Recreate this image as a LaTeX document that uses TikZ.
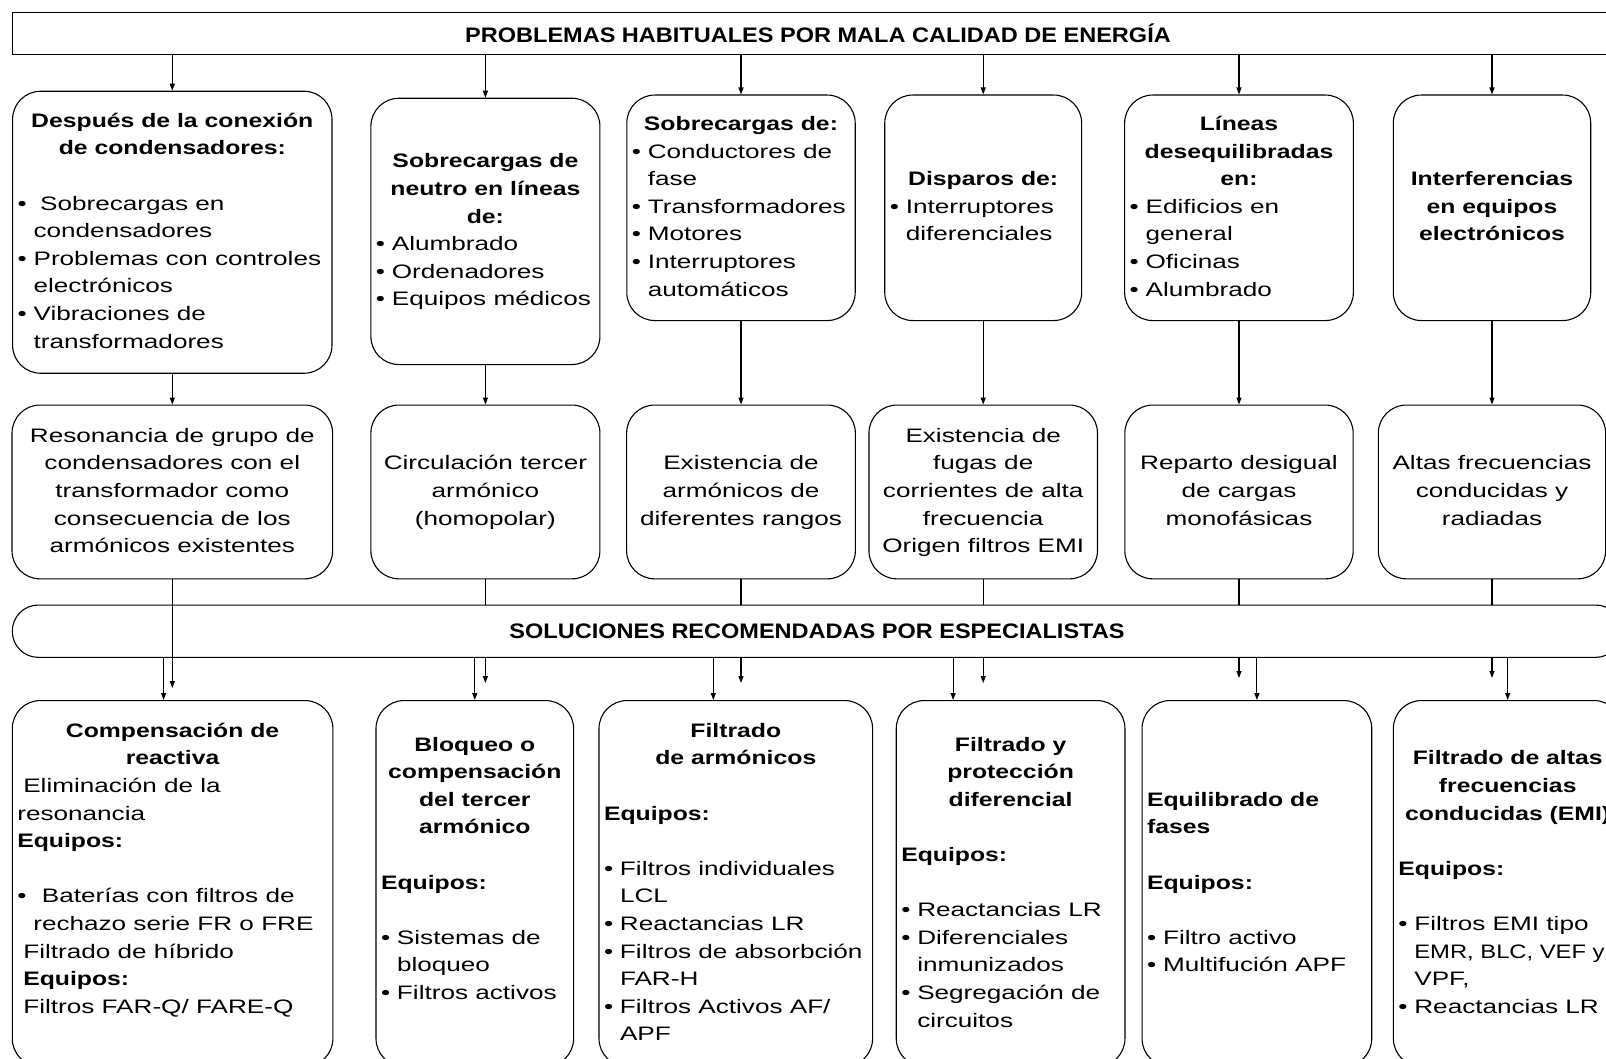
\documentclass[tikz,border=0pt]{standalone}
\usepackage{fontspec}
\usetikzlibrary{arrows.meta}
\newfontfamily\bodyfont{Liberation Sans}[FakeStretch=1.34]
\newfontfamily\headfont{Liberation Sans}[FakeStretch=1.27]
\newfontfamily\capfont{Liberation Sans}[FakeStretch=1.12]
\newdimen\hdw
\newcommand{\hcen}[1]{\strut\makebox[\hdw][c]{\headfont\bfseries #1}}
\newcommand{\hlft}[1]{\strut\makebox[\hdw][l]{\headfont\bfseries #1}}
\newcommand{\hbold}[1]{{\headfont\bfseries #1}}
\newcommand{\bulw}[1]{\strut\makebox[#1][l]{\textbullet}}
\newcommand{\bul}{\bulw{16pt}}
\newcommand{\cnt}{\strut\hspace*{16pt}}
\tikzset{chart/.style={x=1pt,y=-1pt,line width=1.1pt}}
\tikzset{link/.style={-{Triangle[length=7pt,width=5pt]}},
         bar/.style={draw,inner sep=0pt,font=\capfont\bfseries\fontsize{21}{25}\selectfont},
         pbox/.style 2 args={draw,rounded corners=28pt,inner sep=0pt,align=left,
           font=\bodyfont\fontsize{19.5}{27.6}\selectfont,minimum width=#1,minimum height=#2,
           execute at begin node={\global\hdw=\dimexpr#1-10pt\relax}},
         cbox/.style 2 args={pbox={#1}{#2},align=center}}

\begin{document}
\begin{tikzpicture}[chart]
    \useasboundingbox (0,0) rectangle (1606,1059);
    \fill[white] (0,0) rectangle (1606,1059);
    \clip (0,0) rectangle (1606,1059);
    \node[bar,minimum width=1611.4pt,minimum height=42.7pt] (top) at (818,33.6)
      {PROBLEMAS HABITUALES POR MALA CALIDAD DE ENERGÍA};
    % problems
    \node[pbox={319.4pt}{282pt},anchor=north] (p1) at (172.3,90.7)
      {\hcen{Después de la conexión}\\ \hcen{de condensadores:}\\ \strut\\
       \bulw{22.5pt}Sobrecargas en\\ \cnt condensadores\\ \bul Problemas con controles\\
       \cnt electrónicos\\ \bul Vibraciones de\\ \cnt transformadores};
    \node[pbox={229pt}{266.3pt},anchor=north] (p2) at (485.4,97.7)
      {\hcen{Sobrecargas de}\\ \hcen{neutro en líneas}\\ \hcen{de:}\\
       \bul Alumbrado\\ \bul Ordenadores\\ \bul Equipos médicos};
    \node[pbox={228.4pt}{225.5pt},anchor=north] (p3) at (741,94.5)
      {\hcen{Sobrecargas de:}\\ \bul Conductores de\\ \cnt fase\\ \bul Transformadores\\
       \bul Motores\\ \bul Interruptores\\ \cnt automáticos};
    \node[pbox={196.9pt}{225.5pt},anchor=north] (p4) at (983.2,94.5)
      {\hcen{Disparos de:}\\ \bul Interruptores\\ \cnt diferenciales};
    \node[pbox={228.7pt}{225.5pt},anchor=north] (p5) at (1239,94.5)
      {\hcen{Líneas}\\ \hcen{desequilibradas}\\ \hcen{en:}\\ \bul Edificios en\\
       \cnt general\\ \bul Oficinas\\ \bul Alumbrado};
    \node[pbox={197.4pt}{225.5pt},anchor=north] (p6) at (1492,94.5)
      {\hcen{Interferencias}\\ \hcen{en equipos}\\ \hcen{electrónicos}};
    % causes
    \node[cbox={320.6pt}{173.8pt},anchor=north] (c1) at (172.3,404.5)
      {\strut Resonancia de grupo de\\ condensadores con el\\ transformador como\\
       consecuencia de los\\ \strut armónicos existentes};
    \node[cbox={229pt}{173.8pt},anchor=north] (c2) at (485.4,404.5)
      {\strut Circulación tercer\\ armónico\\ \strut(homopolar)};
    \node[cbox={228.7pt}{173.8pt},anchor=north] (c3) at (741,404.5)
      {\strut Existencia de\\ armónicos de\\ \strut diferentes rangos};
    \node[cbox={228.5pt}{173.8pt},anchor=north] (c4) at (983.2,404.5)
      {\strut Existencia de\\ fugas de\\ corrientes de alta\\ frecuencia\\ \strut Origen filtros EMI};
    \node[cbox={228.3pt}{173.8pt},anchor=north] (c5) at (1239,404.5)
      {\strut Reparto desigual\\ de cargas\\ \strut monofásicas};
    \node[cbox={227.3pt}{173.8pt},anchor=north] (c6) at (1492,404.5)
      {\strut Altas frecuencias\\ conducidas y\\ \strut radiadas};
    \node[bar,rounded corners=26pt,minimum width=1609.4pt,minimum height=52.3pt] (band) at (817,631.2)
      {SOLUCIONES RECOMENDADAS POR ESPECIALISTAS};
    % solutions
    \node[pbox={320.6pt}{366pt},anchor=north] (s1) at (172.6,700)
      {\hcen{Compensación de}\\ \hcen{reactiva}\\ \strut\hspace*{6pt}Eliminación de la\\
       \strut resonancia\\ \hlft{Equipos:}\\ \strut\\ \bulw{24.6pt}Baterías con filtros de\\
       \cnt rechazo serie FR o FRE\\ \strut\hspace*{6pt}Filtrado de híbrido\\
       \strut\hspace*{6pt}\hbold{Equipos:}\\ \strut\hspace*{6pt}Filtros FAR-Q/ FARE-Q\\ \strut};
    \node[pbox={197.6pt}{366pt},anchor=north] (s2) at (474.8,700)
      {\hcen{Bloqueo o}\\ \hcen{compensación}\\ \hcen{del tercer}\\ \hcen{armónico}\\ \strut\\
       \hlft{Equipos:}\\ \strut\\ \bul Sistemas de\\ \cnt bloqueo\\ \bul Filtros activos\\ \strut};
    \node[pbox={273.6pt}{366pt},anchor=north] (s3) at (735.8,700)
      {\hcen{Filtrado}\\ \hcen{de armónicos}\\ \strut\\ \hlft{Equipos:}\\ \strut\\
       \bul Filtros individuales\\ \cnt LCL\\ \bul Reactancias LR\\ \bul Filtros de absorbción\\
       \cnt FAR-H\\ \bul Filtros Activos AF/\\ \cnt APF};
    \node[pbox={228.7pt}{366pt},anchor=north] (s4) at (1010.6,700)
      {\hcen{Filtrado y}\\ \hcen{protección}\\ \hcen{diferencial}\\ \strut\\ \hlft{Equipos:}\\ \strut\\
       \bul Reactancias LR\\ \bul Diferenciales\\ \cnt inmunizados\\ \bul Segregación de\\ \cnt circuitos};
    \node[pbox={229.7pt}{366pt},anchor=north] (s5) at (1256.9,700)
      {\hlft{Equilibrado de}\\ \hlft{fases}\\ \strut\\ \hlft{Equipos:}\\ \strut\\
       \bul Filtro activo\\ \bul Multifución APF};
    \node[pbox={228.7pt}{366pt},anchor=north] (s6) at (1507.7,700)
      {\hcen{Filtrado de altas}\\ \hcen{frecuencias}\\ \hcen{conducidas (EMI)}\\ \strut\\
       \hlft{Equipos:}\\ \strut\\ \bul Filtros EMI tipo\\
       \cnt\makebox[190pt][l]{\scalebox{0.91}[1]{EMR, BLC, VEF y}}\\
       \cnt VPF,\\ \bul Reactancias LR};
    % connectors
    \foreach \i in {1,...,6} {
      \draw[link] (top.south -| p\i.north) -- (p\i.north);
      \draw[link] (p\i.south) -- (c\i.north);
    }
    \coordinate (t1) at (c1.south |- 0,688);
    \draw[link] (c1.south) -- (t1);   % runs through the band
    \foreach \i/\y in {2/683,3/683,4/683,5/678,6/678} {
      \draw (c\i.south) -- (c\i.south |- band.north);
      \coordinate (t\i) at (c\i.south |- 0,\y);
      \draw[link] (band.south -| t\i) -- (t\i);
    }
    \coordinate (b1) at ([xshift=-9pt]s1.north);
    \coordinate (b2) at (s2.north);
    \coordinate (b3) at ([xshift=-22.5pt]s3.north);
    \coordinate (b4) at ([xshift=-57.5pt]s4.north);
    \coordinate (b5) at (s5.north);
    \coordinate (b6) at (s6.north);
    \foreach \i in {1,...,6} \draw[link] (band.south -| b\i) -- (b\i);
\end{tikzpicture}
\end{document}
